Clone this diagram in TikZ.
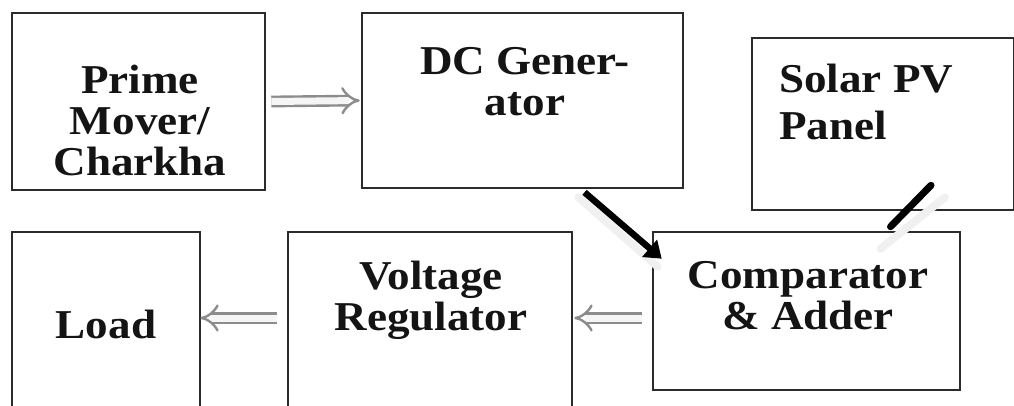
\documentclass[tikz,border=0pt]{standalone}
\usepackage{fontspec}
\setmainfont{Liberation Serif}[FakeStretch=1.1]
\usetikzlibrary{arrows.meta,calc,positioning}
\definecolor{boxline}{HTML}{2B2B2B}
\definecolor{hollow}{HTML}{8C8C8C}
\tikzset{
  blk/.style={draw=boxline,line width=2.6bp,inner sep=0pt},
  txt/.style={font=\bfseries\fontsize{41bp}{41bp}\selectfont,text=black!92,align=center,inner sep=0pt},
  hollowarr/.style={draw=hollow,line width=2.4bp,double=gray!8,double distance=7bp,-{Implies}},
  fatarr/.style={line width=6.5bp,black,-{Triangle[length=16bp,width=22bp]}},
  shade/.style={line width=8bp,gray!12,line cap=round}
}
\begin{document}
\begin{tikzpicture}[x=1bp,y=-1bp]
\useasboundingbox (0,0) rectangle (1014,405);
\clip (0,0) rectangle (1014,405);
% top row
\node[blk,minimum width=253bp,minimum height=177bp] (prime) at (138.5,101.5) {};
\node[blk,minimum width=321bp,minimum height=175bp] (dcgen) at (522.5,100.5) {};
\node[blk,minimum width=262bp,minimum height=172bp] (solar) at (883,124) {};
% bottom row
\node[blk,minimum width=188bp,minimum height=200bp] (load) at (106,332) {};
\node[blk,minimum width=284bp,minimum height=200bp] (volt) at (430,332) {};
\node[blk,minimum width=307bp,minimum height=158bp] (comp) at (806.5,311) {};
% texts
\node[txt] (primet) at (140,120) {Prime\\Mover/\\Charkha};
\node[txt] (dcgent) at (525,82) {DC Gener-\\ator};
\node[txt,align=left,anchor=west] (solart) at (779,102) {Solar PV\\[6bp]Panel};
\node[txt] (loadt) at (106,324) {Load};
\node[txt] (voltt) at (431,300) {Voltage\\Regulator};
\node[txt] (compt) at (808,296) {Comparator\\\& Adder};
% arrows
\draw[hollowarr] ($(prime.east)+(5,0)$) -- ($(dcgen.west)+(-1,0)$);
\draw[shade] ($(dcgen.south)+(56,8)$) -- ($(comp.north west)+(6,36)$);
\draw[fatarr] ($(dcgen.south)+(62,3)$) -- ($(comp.north west)+(10,28)$);
\draw[shade] ($(solar.south)+(62,-14)$) -- ($(comp.north)+(74,18)$);
\draw[line width=7bp,black,line cap=round] ($(solar.south)+(48,-26)$) -- ($(comp.north)+(84,-4)$);
\draw[hollowarr] ($(volt.west)+(-10,-14)$) -- ($(load.east)+(-1,-14)$);
\draw[hollowarr] ($(comp.west)+(-10,7)$) -- ($(volt.east)+(1,-14)$);
\end{tikzpicture}
\end{document}
